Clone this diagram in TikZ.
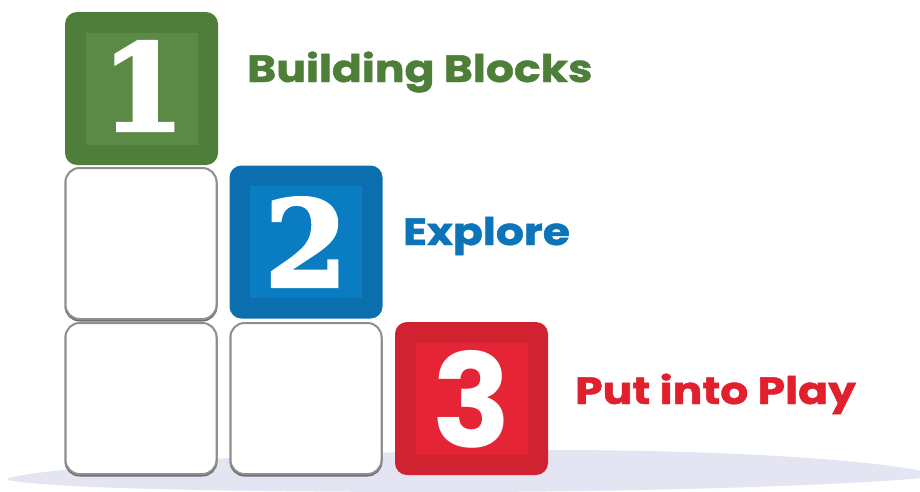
\documentclass[tikz,border=0pt]{standalone}
\usepackage{fontspec}
\setmainfont{Poppins}
\newfontfamily\slabfont{DejaVu Serif}[BoldFeatures={FakeBold=2.5}]
\newfontfamily\popb{Poppins}[BoldFeatures={FakeBold=1.2}]
\newfontfamily\popdigit{Poppins}
\definecolor{gOut}{HTML}{4F7E3B}
\definecolor{gIn}{HTML}{5B8A47}
\definecolor{gTxt}{HTML}{4E7F38}
\definecolor{bOut}{HTML}{0B6EAE}
\definecolor{bIn}{HTML}{0A7CC1}
\definecolor{bTxt}{HTML}{0C74B8}
\definecolor{rOut}{HTML}{D12231}
\definecolor{rIn}{HTML}{E52536}
\definecolor{rTxt}{HTML}{E1202E}
\definecolor{floorc}{HTML}{E3E5F2}
\definecolor{boxgray}{HTML}{8E8E8E}
\definecolor{boxshadow}{HTML}{6E6E6E}
\newcommand{\widetext}[1]{\scalebox{1.16}[1]{#1}}
\begin{document}
\begin{tikzpicture}[x=1pt,y=-1pt,
  blk/.style={rectangle, rounded corners=12pt, minimum width=153pt, minimum height=153pt, inner sep=0pt, draw=none},
  innersq/.style={rectangle, minimum width=112pt, minimum height=112pt, inner sep=0pt, draw=none},
  emptybox/.style={rectangle, rounded corners=14pt, minimum width=151pt, minimum height=151pt, inner sep=0pt, draw=boxgray, line width=2pt, fill=white},
  boxshade/.style={rectangle, rounded corners=14pt, minimum width=151pt, minimum height=151pt, inner sep=0pt, draw=boxshadow, line width=2pt},
  slabdigit/.style={text=white, inner sep=0pt, font=\fontsize{120}{120}\bfseries\slabfont},
  sansdigit/.style={text=white, inner sep=0pt, font=\fontsize{130}{130}\bfseries\popdigit},
  lbl/.style={anchor=base west, inner sep=0pt, font=\fontsize{38}{38}\bfseries\popb}
]
\useasboundingbox (0,0) rectangle (920,491);
% floor
\fill[floorc] (8,478) .. controls (60,466) and (250,452) .. (550,450)
  .. controls (750,450) and (880,462) .. (922,471) -- (922,478)
  .. controls (850,485) and (650,492) .. (450,492)
  .. controls (250,492) and (50,489) .. (8,480) -- cycle;
% empty boxes (with slight shadow)
\node[boxshade] (e1s) at (141,245) {};
\node[emptybox] (e1) at (141,243.5) {};
\node[boxshade] (e2s) at (141,400) {};
\node[emptybox] (e2) at (141,398.5) {};
\node[boxshade] (e3s) at (306,400) {};
\node[emptybox] (e3) at (306,398.5) {};
% block 1
\node[blk, fill=gOut] (b1) at (141.5,88.5) {};
\node[innersq, fill=gIn] (i1) at (b1.center) {};
\node[slabdigit] (n1) at (143,86) {1};
% block 2
\node[blk, fill=bOut] (b2) at (306,242) {};
\node[innersq, fill=bIn] (i2) at (b2.center) {};
\node[slabdigit] (n2) at (306,242) {2};
% block 3
\node[blk, fill=rOut] (b3) at (471.5,398.5) {};
\node[innersq, fill=rIn] (i3) at (b3.center) {};
\node[sansdigit] (n3) at (471.5,399) {3};
% labels
\node[lbl, text=gTxt] (t1) at (247,82) {\widetext{Building Blocks}};
\node[lbl, text=bTxt] (t2) at (403,245) {\widetext{Explore}};
\node[lbl, text=rTxt] (t3) at (575,404) {\widetext{Put into Play}};
\end{tikzpicture}
\end{document}
